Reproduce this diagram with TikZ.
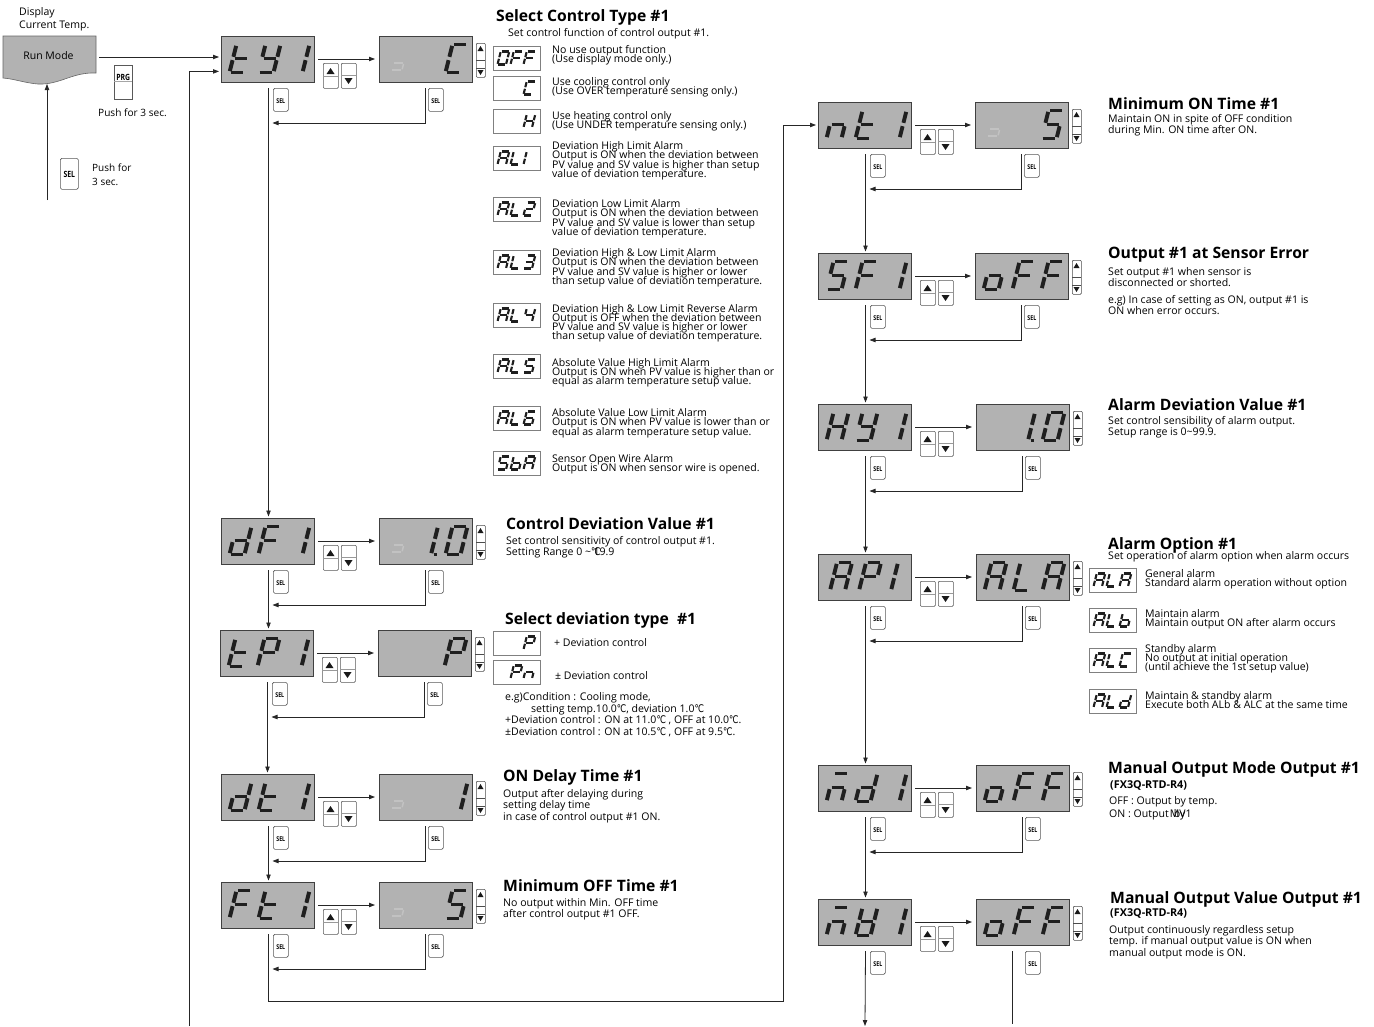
\documentclass[tikz,border=0pt]{standalone}
\usepackage{fontspec}
\usepackage{graphicx}
\setmainfont{Open Sans}
\newfontfamily\djvfont{DejaVu Sans}
\usetikzlibrary{arrows.meta,calc}
\newcommand\dgc{{\djvfont\scalebox{.8}[1]{℃}}}
\newcommand\noskiplimit{\lineskiplimit=-100pt\relax}
\tikzset{
 arr/.style={line width=.8pt,draw=black!85,-{Triangle[length=6pt,width=4.4pt]}},
 pln/.style={line width=.8pt,draw=black!85},
 bigd/.style={draw=black!75,line width=.8pt,fill=black!30,minimum width=93pt,minimum height=46pt,inner sep=0pt,anchor=north west},
 smalld/.style={draw=black!50,line width=.6pt,fill=white,minimum width=47pt,minimum height=24pt,inner sep=0pt,anchor=north west},
 selb/.style={draw=black!65,line width=.6pt,fill=white,rounded corners=1.5pt,minimum width=15pt,minimum height=23pt,inner sep=0pt,anchor=north west,font=\fontsize{6.6}{7}\bfseries},
 udb/.style={draw=black!65,line width=.6pt,fill=white,rounded corners=1pt,minimum width=15pt,minimum height=25pt,inner sep=0pt,anchor=north west},
 scb/.style={draw=black!70,line width=.6pt,fill=white,rounded corners=1pt,minimum width=9pt,minimum height=34pt,inner sep=0pt,anchor=north west},
 ttl/.style={anchor=west,inner sep=0pt,yshift=-1.5pt,font=\fontsize{15.7}{16}\bfseries},
 sub/.style={anchor=west,inner sep=0pt,font=\fontsize{10.8}{12}\bfseries},
 bod/.style={anchor=north west,inner sep=0pt,yshift=-1pt,align=left,font=\fontsize{10.55}{11.5}\selectfont\noskiplimit},
 tight/.style={anchor=north west,inner sep=0pt,yshift=1.5pt,align=left,font=\fontsize{10.55}{9.2}\selectfont\noskiplimit},
 segst/.style={line width=\seglw pt,draw=\segcol},
}
\def\seglw{3.9}\def\segcol{black!88}
\def\sega{\draw[segst] (.1,1)--(.92,1);}
\def\segb{\draw[segst] (1,.95)--(1,.56);}
\def\segc{\draw[segst] (1,.44)--(1,.05);}
\def\segd{\draw[segst] (.08,0)--(.9,0);}
\def\sege{\draw[segst] (0,.05)--(0,.44);}
\def\segf{\draw[segst] (0,.56)--(0,.95);}
\def\segg{\draw[segst] (.1,.5)--(.9,.5);}
\def\chx{}
\def\cht{f,e,g,d}\def\chy{f,b,g,c,d}\def\chone{b,c}\def\chC{a,f,e,d}\def\chd{g,e,d,c,b}
\def\chF{a,f,g,e}\def\chP{a,b,f,g,e}\def\chn{g,e,c}\def\chN{a,g,e,c}\def\chS{a,f,g,c,d}
\def\chH{f,b,g,e,c}\def\chA{a,b,c,e,f,g}\def\cho{g,c,d,e}\def\chL{f,e,d}\def\chO{a,b,c,d,e,f}
\def\chtwo{a,b,g,e,d}\def\chthree{a,b,g,c,d}\def\chfour{f,g,b,c}\def\chsix{a,f,g,e,c,d}
\def\chb{f,e,g,c,d}\def\chU{f,b,g,e,c,d}\def\chl{e,f}\def\chghost{g,c,d}
\newcommand\sevenseg[5]{% x, y, w, h, char name
 \begin{scope}[shift={(#1,#2)},x=#3pt,y=#4pt,xslant=.25]
 \expandafter\let\expandafter\cur\csname ch#5\endcsname
 \foreach \s in \cur {\csname seg\s\endcsname}
 \end{scope}}
\newcommand\bigtxt[3]{% x0,y0,chars
 \def\seglw{3.9}
 \foreach \cc [count=\ii] in {#3}{
  \pgfmathsetmacro\dx{#1+8.5+(\ii-1)*29}
  \sevenseg{\dx}{#2+36.5}{15}{28}{\cc}}}
\newcommand\smtxt[3]{%
 \def\seglw{2.1}
 \foreach \cc [count=\ii] in {#3}{
  \pgfmathsetmacro\dx{#1+4.5+(\ii-1)*13}
  \sevenseg{\dx}{#2+18.5}{8.5}{13}{\cc}}}
\newcommand\updown[3]{% name,x,y
 \node[udb] (#1-up) at (#2,#3) {};
 \node[udb] (#1-dn) at (#2+18,#3) {};
 \draw[black!40,line width=.5pt] (#2,#3+13)--(#2+15,#3+13) (#2+18,#3+12)--(#2+33,#3+12);
 \fill[black!90] (#2+3.5,#3+11)--(#2+11.5,#3+11)--(#2+7.5,#3+5)--cycle;
 \fill[black!90] (#2+21.5,#3+15)--(#2+29.5,#3+15)--(#2+25.5,#3+21)--cycle;
}
\newcommand\scrollb[3]{%
 \node[scb] (#1) at (#2,#3) {};
 \draw[black!70,line width=.6pt] (#2,#3+17)--(#2+9,#3+17) (#2,#3+25)--(#2+9,#3+25);
 \fill[black!90] (#2+1.5,#3+8)--(#2+7.5,#3+8)--(#2+4.5,#3+3)--cycle;
 \fill[black!90] (#2+1.5,#3+27)--(#2+7.5,#3+27)--(#2+4.5,#3+32)--cycle;
}
\newcommand\selbtn[3]{\node[selb] (#1) at (#2,#3) {\raisebox{-6.5pt}{\scalebox{.8}[1]{SEL}}};}
% row: name, xl, yt, xr, left chars, right chars
\newcommand\flowrow[6]{%
 \node[bigd] (#1-l) at (#2,#3) {};
 \node[bigd] (#1-r) at (#4,#3) {};
 \bigtxt{#2}{#3}{#5}
 \bigtxt{#4}{#3}{#6}
 \updown{#1}{#2+102}{#3+27}
 \scrollb{#1-sc}{#4+97}{#3+7}
 \selbtn{#1-sl}{#2+52}{#3+52}
 \selbtn{#1-sr}{#4+49}{#3+52}
 \coordinate (#1-a) at (#2+97,#3+23);
 \coordinate (#1-b) at (#4-4,#3+23);
 \coordinate (#1-v) at (#2+47.5,#3+52);
 \coordinate (#1-w) at (#4+46,#3+52);
 \coordinate (#1-e) at (#2+51.5,#3+87);
 \draw[arr] (#1-a)--(#1-b);
}
\newcommand\retline[1]{\draw[arr] (#1-w)|-(#1-e);}
\newcommand\vlink[2]{\draw[arr,shorten >=1.5pt] (#1-v)--(#1-v|-#2-l.north);}
\newcommand\opt[4]{\node[smalld] (#1) at (#2,#3) {}; \smtxt{#2}{#3}{#4}}
\newcommand\onepointzero[2]{%
 \sevenseg{#1+39}{#2+36.5}{13}{28}{one}
 \sevenseg{#1+66.5}{#2+36.5}{15}{28}{O}
 \fill[black!88] (#1+54.5,#2+34.5) rectangle +(3,3.5);}
\begin{document}
\begin{tikzpicture}[x=1pt,y=-1pt]
\useasboundingbox (0,0) rectangle (1374,1026);
\fill[white] (0,0) rectangle (1374,1026);
% run mode
\filldraw[fill=black!30,draw=black!60,line width=.6pt] (3,36)--(96,36)--(96,73) .. controls (72,72) and (60,85) .. (38,84) .. controls (25,83) and (15,79) .. (3,78)--cycle;
\node[inner sep=0pt,font=\fontsize{10.5}{12}\selectfont] (run) at (48.5,56) {Run Mode};
\node[bod,font=\fontsize{10.5}{13}\selectfont] (disp) at (19,6) {Display\\Current Temp.};
\coordinate (run-e) at (99,57);
\coordinate (run-s) at (47,84);
\coordinate (sel-end) at (47,200);
\coordinate (ret-end) at (189,1026);
\node[selb,minimum width=18pt,minimum height=34pt,rounded corners=0pt,font=\fontsize{8.6}{9}\bfseries] (prg) at (114,65) {\raisebox{10pt}{\scalebox{.8}[1]{PRG}}};
\draw[black!35,line width=.5pt] (114,81)--(132,81);
\node[selb,minimum width=18pt,minimum height=31pt,font=\fontsize{8.6}{9}\bfseries] (bigsel) at (60,158) {\raisebox{-8pt}{\scalebox{.8}[1]{SEL}}};
\node[bod,font=\fontsize{10.1}{13.5}\selectfont,anchor=west] (p3) at (98,112) {Push for 3 sec.};
\node[bod,font=\fontsize{10}{14}\selectfont,anchor=west] (p3b) at (92,174) {Push for\\3 sec.};
% rows
\flowrow{ty}{221}{36}{379}{t,y,one}{x,x,C}
\flowrow{df}{221}{518}{379}{d,F,one}{x,x,x}
\flowrow{tp}{220}{630}{378}{t,P,one}{x,x,P}
\flowrow{dt}{221}{774}{379}{d,t,one}{x,x,one}
\flowrow{ft}{221}{882}{379}{F,t,one}{x,x,S}
\flowrow{nt}{818}{102}{975}{n,t,one}{x,x,S}
\flowrow{sf}{818}{253}{975}{S,F,one}{o,F,F}
\flowrow{hy}{818}{404}{976}{H,y,one}{x,x,x}
\flowrow{ap}{818}{554}{976}{x,x,x}{A,L,A}
\flowrow{nd}{818}{765}{976}{N,d,one}{o,F,F}
\flowrow{nv}{818}{899}{976}{N,U,one}{o,F,F}
% displays with their own digit spacing
\begingroup\def\seglw{3.9}
\onepointzero{379}{518}
\onepointzero{976}{404}
\sevenseg{818+12}{554+36.5}{15}{28}{A}
\sevenseg{818+41}{554+36.5}{15}{28}{P}
\sevenseg{818+58}{554+36.5}{15}{28}{one}
\endgroup
% ghost marks
\begingroup\def\seglw{1.5}\def\segcol{black!24}
\foreach \gx/\gy in {379/36,379/518,379/774,379/882,975/102}{
 \sevenseg{\gx+12}{\gy+34}{11}{14}{ghost}}
\endgroup
% connectors
\draw[arr,shorten >=2pt] (run-e)--(run-e-|ty-l.west);
\draw[arr] (sel-end)--(run-s);
\draw[arr,shorten >=2pt] (ret-end)|-($(ty-l.west)+(0,12)$);
\retline{ty}\retline{df}\retline{tp}\retline{dt}\retline{ft}
\retline{nt}\retline{sf}\retline{hy}\retline{ap}\retline{nd}
\vlink{ty}{df}\vlink{df}{tp}\vlink{tp}{dt}\vlink{dt}{ft}
\vlink{nt}{sf}\vlink{sf}{hy}\vlink{hy}{ap}\vlink{ap}{nd}\vlink{nd}{nv}
\coordinate (bus1) at (783,1001);
\coordinate (bus2) at (783,125);
\draw[arr,shorten >=2pt] (ft-v)|-(bus1)--(bus2)--(bus2-|nt-l.west);
\coordinate (nv-out) at (865,1026);
\coordinate (nv-out2) at (1012,1024);
\coordinate (nv-w2) at (1012,951);
\draw[arr] (nv-v)--(nv-out);
\draw[pln] (nv-w2)--(nv-out2);
% options left
\opt{oOFF}{493}{46}{O,F,F}
\opt{oC}{493}{76}{x,x,C}
\opt{oH}{493}{109}{x,x,H}
\opt{oALa}{493}{146}{A,L,l}
\opt{oALb}{493}{197}{A,L,two}
\opt{oALc}{493}{250}{A,L,three}
\opt{oALd}{493}{303}{A,L,four}
\opt{oALe}{493}{354}{A,L,S}
\opt{oALf}{493}{406}{A,L,six}
\opt{oSbA}{493}{451}{S,b,A}
\opt{oP}{493}{631}{x,x,P}
\opt{oPn}{493}{660}{x,P,n}
% options right
\opt{rA}{1089}{568}{A,L,A}
\opt{rB}{1089}{608}{A,L,b}
\opt{rC}{1089}{648}{A,L,C}
\opt{rD}{1089}{689}{A,L,d}
% left texts
\node[ttl] (t1) at (496,16) {Select Control Type \#1};
\node[bod,anchor=west] (t1b) at (508,33) {Set control function of control output \#1.};
\node[tight] (a1) at (552,47) {No use output function\\(Use display mode only.)};
\node[tight] (a2) at (552,78.5) {Use cooling control only\\(Use OVER temperature sensing only.)};
\node[tight] (a3) at (552,112.5) {Use heating control only\\(Use UNDER temperature sensing only.)};
\node[tight] (a4) at (552,143) {Deviation High Limit Alarm\\Output is ON when the deviation between\\PV value and SV value is higher than setup\\value of deviation temperature.};
\node[tight] (a5) at (552,201) {Deviation Low Limit Alarm\\Output is ON when the deviation between\\PV value and SV value is lower than setup\\value of deviation temperature.};
\node[tight] (a6) at (552,250) {Deviation High \& Low Limit Alarm\\Output is ON when the deviation between\\PV value and SV value is higher or lower\\than setup value of deviation temperature.};
\node[tight] (a7) at (552,305.5) {Deviation High \& Low Limit Reverse Alarm\\Output is OFF when the deviation between\\PV value and SV value is higher or lower\\than setup value of deviation temperature.};
\node[tight] (a8) at (552,359.5) {Absolute Value High Limit Alarm\\Output is ON when PV value is higher than or\\equal as alarm temperature setup value.};
\node[tight] (a9) at (552,410) {Absolute Value Low Limit Alarm\\Output is ON when PV value is lower than or\\equal as alarm temperature setup value.};
\node[tight] (a10) at (552,456) {Sensor Open Wire Alarm\\Output is ON when sensor wire is opened.};
\node[ttl] (t2) at (506,522) {Control Deviation Value \#1};
\node[bod] (t2b) at (506,535) {Set control sensitivity of control output \#1.\\Setting Range 0 \textasciitilde\dgc\kern-7pt 19.9};
\node[ttl] (t3) at (505,619) {Select deviation type\ \ \#1};
\node[bod,anchor=west] (t3a) at (554,642) {+ Deviation control};
\node[bod,anchor=west] (t3c) at (555,675) {± Deviation control};
\node[bod] (t3e) at (505,691.5) {e.g)Condition : Cooling mode,\\\hspace*{26pt}setting temp.10.0\dgc, deviation 1.0\dgc\\+Deviation control : ON at 11.0\dgc\ , OFF at 10.0\dgc.\\±Deviation control : ON at 10.5\dgc\ , OFF at 9.5\dgc.};
\node[ttl] (t4) at (503,776) {ON Delay Time \#1};
\node[bod] (t4b) at (503,788) {Output after delaying during\\setting delay time\\in case of control output \#1 ON.};
\node[ttl] (t5) at (503,884.5) {Minimum OFF Time \#1};
\node[bod] (t5b) at (503,897) {No output within Min. OFF time\\after control output \#1 OFF.};
% right texts
\node[ttl] (r1) at (1108,102.5) {Minimum ON Time \#1};
\node[bod] (r1b) at (1108,113) {Maintain ON in spite of OFF condition\\during Min. ON time after ON.};
\node[ttl] (r2) at (1108,253.5) {Output \#1 at Sensor Error};
\node[bod] (r2b) at (1108,266) {Set output \#1 when sensor is\\disconnected or shorted.};
\node[bod] (r2c) at (1108,294) {e.g) In case of setting as ON, output \#1 is\\ON when error occurs.};
\node[ttl] (r3) at (1108,403.5) {Alarm Deviation Value \#1};
\node[bod] (r3b) at (1108,415) {Set control sensibility of alarm output.\\Setup range is 0\textasciitilde 99.9.};
\node[ttl] (r4) at (1108,544) {Alarm Option \#1};
\node[bod,anchor=west] (r4b) at (1108,556) {Set operation of alarm option when alarm occurs};
\node[tight] (b1) at (1145,571) {General alarm\\Standard alarm operation without option};
\node[tight] (b2) at (1145,610.5) {Maintain alarm\\Maintain output ON after alarm occurs};
\node[tight] (b3) at (1145,645.5) {Standby alarm\\No output at initial operation\\(until achieve the 1st setup value)};
\node[tight] (b4) at (1145,692.5) {Maintain \& standby alarm\\Execute both ALb \& ALC at the same time};
\node[ttl] (r5) at (1108,767.5) {Manual Output Mode Output \#1};
\node[sub] (r5s) at (1110,785) {(FX3Q-RTD-R4)};
\node[bod,anchor=west] (r5a) at (1109,801) {OFF : Output by temp.};
\node[bod,anchor=west] (r5c) at (1109,814) {ON : Output\kern1pt\rlap{\kern4pt by}MV1};
\node[ttl] (r6) at (1110,897.5) {Manual Output Value Output \#1};
\node[sub] (r6s) at (1110,913) {(FX3Q-RTD-R4)};
\node[bod] (r6b) at (1109,924) {Output continuously regardless setup\\temp. if manual output value is ON when\\manual output mode is ON.};
\end{tikzpicture}
\end{document}
